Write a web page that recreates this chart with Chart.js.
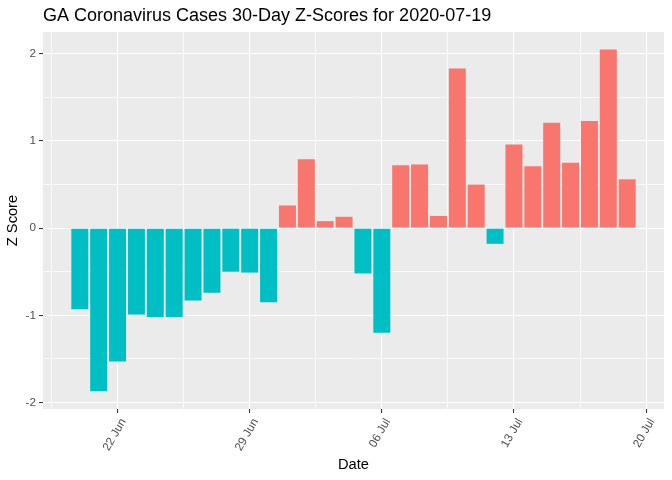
<!DOCTYPE html>
<html><head><meta charset="utf-8">
<script src="https://cdn.jsdelivr.net/npm/chart.js@4/dist/chart.umd.min.js"></script>
<style>html,body{margin:0;padding:0;background:#fff}</style>
</head><body>
<canvas id="c" width="672" height="480"></canvas>
<script>
const dates = ['2020-06-20','2020-06-21','2020-06-22','2020-06-23','2020-06-24','2020-06-25','2020-06-26','2020-06-27','2020-06-28','2020-06-29','2020-06-30','2020-07-01','2020-07-02','2020-07-03','2020-07-04','2020-07-05','2020-07-06','2020-07-07','2020-07-08','2020-07-09','2020-07-10','2020-07-11','2020-07-12','2020-07-13','2020-07-14','2020-07-15','2020-07-16','2020-07-17','2020-07-18','2020-07-19'];
const zScores = [-0.93,-1.87,-1.53,-0.99,-1.02,-1.02,-0.83,-0.74,-0.50,-0.51,-0.85,0.26,0.79,0.08,0.13,-0.52,-1.20,0.72,0.73,0.14,1.83,0.50,-0.18,0.96,0.71,1.21,0.75,1.23,2.05,0.56];
const xTickDates = ['2020-06-22','2020-06-29','2020-07-06','2020-07-13','2020-07-20'];
const xTickLabels = ['22 Jun','29 Jun','06 Jul','13 Jul','20 Jul'];
const yTicks = [-2,-1,0,1,2];
const titleText = 'GA Coronavirus Cases 30-Day Z-Scores for 2020-07-19';
const xTitle = 'Date';
const yTitle = 'Z Score';
const POS = '#F8766D', NEG = '#00BFC4';

const dayNum = s => { const [y,m,d] = s.split('-').map(Number); return Date.UTC(y, m-1, d) / 864e5; };
const xs = dates.map(dayNum);
const xMajors = xTickDates.map(dayNum);
const xMin = xs[0] - 1.95, xMax = xs[xs.length-1] + 1.95;
const yMin = -2.075, yMax = 2.25;
const FONT = 'Liberation Sans, Arial, sans-serif';

const isXMajor = v => xMajors.some(m => Math.abs(m - v) < 1e-6);
const isYMajor = v => yTicks.some(m => Math.abs(m - v) < 1e-6);
const tv = ctx => (ctx && ctx.tick) ? ctx.tick.value : NaN;

const panelBg = {
  id: 'panelBg',
  beforeDraw(chart) {
    const a = chart.chartArea, c = chart.ctx;
    c.save(); c.fillStyle = '#EBEBEB';
    c.fillRect(a.left, a.top, a.right - a.left, a.bottom - a.top);
    c.restore();
  }
};

new Chart(document.getElementById('c'), {
  type: 'bar',
  data: {
    datasets: [{
      data: xs.map((x, i) => ({x, y: zScores[i]})),
      backgroundColor: zScores.map(v => v >= 0 ? POS : NEG),
      borderWidth: 0,
      barPercentage: 0.9,
      categoryPercentage: 1.0
    }]
  },
  options: {
    responsive: false,
    devicePixelRatio: 1,
    animation: false,
    events: [],
    layout: { padding: { left: 0, right: 8, top: 0, bottom: 0 } },
    plugins: {
      legend: { display: false },
      tooltip: { enabled: false },
      title: {
        display: true, text: titleText, align: 'start', fullSize: false,
        color: '#000000',
        font: { family: FONT, size: 18, weight: 'normal', lineHeight: 1.2 },
        padding: { top: 5.5, bottom: 4.9 }
      }
    },
    scales: {
      x: {
        type: 'linear', min: xMin, max: xMax, offset: false,
        afterBuildTicks(scale) {
          const vals = [];
          xMajors.forEach(m => { vals.push(m - 3.5); vals.push(m); });
          scale.ticks = vals.filter(v => v >= xMin && v <= xMax).sort((a,b)=>a-b).map(v => ({value: v}));
        },
        afterFit(scale) { scale.height = 71; },
        border: { display: false },
        grid: {
          offset: false,
          color: '#FFFFFF',
          lineWidth: ctx => isXMajor(tv(ctx)) ? 1.07 : 0.7,
          tickColor: ctx => isXMajor(tv(ctx)) ? '#333333' : 'rgba(0,0,0,0)',
          tickLength: 4, tickWidth: 1.07, drawTicks: true
        },
        ticks: {
          autoSkip: false, minRotation: 60, maxRotation: 60, padding: 3, labelOffset: 6,
          color: '#4D4D4D', font: { family: FONT, size: 11.73 },
          callback: v => { const i = xMajors.findIndex(m => Math.abs(m - v) < 1e-6); return i >= 0 ? xTickLabels[i] : ''; }
        },
        title: {
          display: true, text: xTitle, color: '#000000',
          font: { family: FONT, size: 14.67 }, padding: { top: 0, bottom: 6 }
        }
      },
      y: {
        type: 'linear', min: yMin, max: yMax,
        afterBuildTicks(scale) {
          const vals = [];
          yTicks.forEach(t => { vals.push(t); if (t < yTicks[yTicks.length-1]) vals.push(t + 0.5); });
          scale.ticks = vals.filter(v => v >= yMin && v <= yMax).map(v => ({value: v}));
        },
        afterFit(scale) { scale.width = 43; },
        border: { display: false },
        grid: {
          color: '#FFFFFF',
          lineWidth: ctx => isYMajor(tv(ctx)) ? 1.07 : 0.7,
          tickColor: ctx => isYMajor(tv(ctx)) ? '#333333' : 'rgba(0,0,0,0)',
          tickLength: 4, tickWidth: 1.07, drawTicks: true
        },
        ticks: {
          autoSkip: false, padding: 3,
          color: '#4D4D4D', font: { family: FONT, size: 11.73 },
          callback: v => isYMajor(v) ? String(Math.round(v)) : ''
        },
        title: {
          display: true, text: yTitle, color: '#000000',
          font: { family: FONT, size: 14.67 }, padding: { top: 4, bottom: 0 }
        }
      }
    }
  },
  plugins: [panelBg]
});
</script>
</body></html>
